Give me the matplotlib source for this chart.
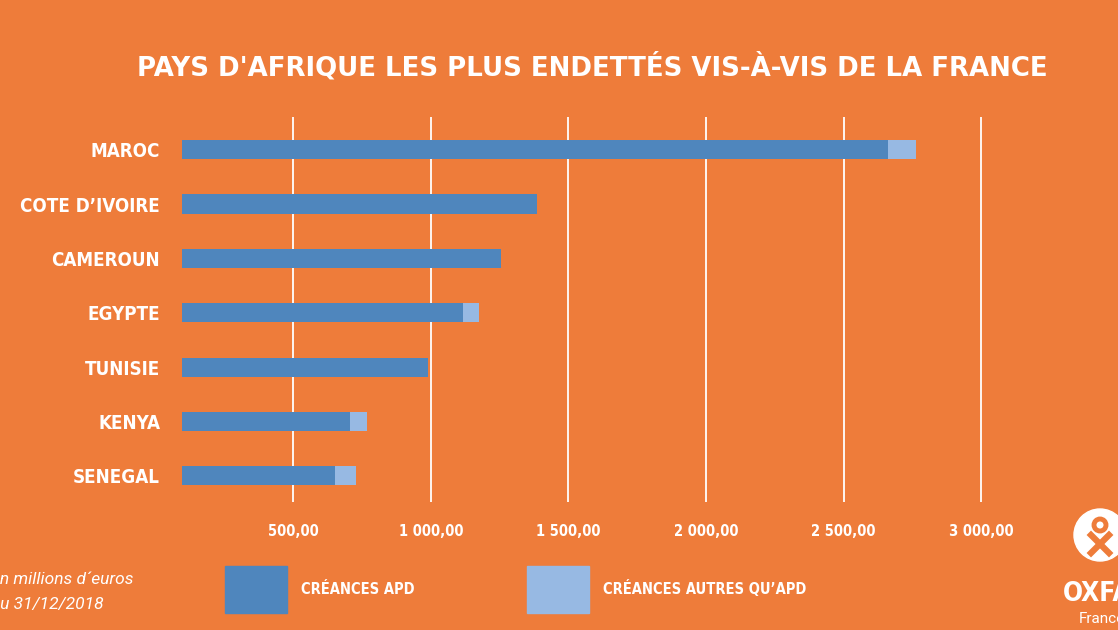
import numpy as np
import matplotlib.pyplot as plt
from matplotlib.patches import Circle
from matplotlib.ticker import FuncFormatter

# --- DATA ---
countries = ["MAROC", "COTE D’IVOIRE", "CAMEROUN", "EGYPTE", "TUNISIE", "KENYA", "SENEGAL"]
creances_apd = [2660, 1386, 1255, 1118, 990, 706, 652]
creances_autres = [104, 0, 0, 57, 0, 61, 77]
x_ticks = [500, 1000, 1500, 2000, 2500, 3000]

ORANGE = "#EE7C3A"
BLUE = "#4F86BD"
LIGHT_BLUE = "#97B9E3"
COND = dict(family=["DejaVu Sans"], fontstretch="condensed", fontweight="bold")


def fr_format(v, pos=None):
    s = f"{v:,.2f}"
    return s.replace(",", " ").replace(".", ",")


fig = plt.figure(figsize=(11.18, 6.30), dpi=100, facecolor=ORANGE)
ax = fig.add_axes([182.3 / 1118, 128 / 630, 840 / 1118, 385 / 630])
ax.set_facecolor(ORANGE)

y = np.arange(len(countries))
ax.barh(y, creances_apd, height=0.35, color=BLUE, zorder=3)
ax.barh(y, creances_autres, left=creances_apd, height=0.35, color=LIGHT_BLUE, zorder=3)

ax.set_xlim(96, 3150)
ax.set_ylim(6.48, -0.6)
ax.set_xticks(x_ticks)
ax.xaxis.set_major_formatter(FuncFormatter(fr_format))
ax.set_yticks(y)
ax.set_yticklabels(countries)
ax.grid(axis="x", color="white", linewidth=1.3, zorder=1)
for s in ax.spines.values():
    s.set_visible(False)
ax.tick_params(axis="both", length=0, colors="white")
ax.tick_params(axis="x", pad=16)
ax.tick_params(axis="y", pad=16)
for lbl in ax.get_xticklabels():
    lbl.set(**COND, fontsize=10.5)
for lbl in ax.get_yticklabels():
    lbl.set(**COND, fontsize=13.5)

# title
fig.text(592 / 1118, 1 - 67 / 630, "PAYS D'AFRIQUE LES PLUS ENDETTÉS VIS-À-VIS DE LA FRANCE",
         ha="center", va="center", color="white", fontsize=18.7, fontweight="bold",
         family=["DejaVu Sans"])

# legend
px = fig.dpi_scale_trans
fig.add_artist(plt.Rectangle((2.25, 0.17), 0.62, 0.47, transform=px, color=BLUE))
fig.add_artist(plt.Rectangle((5.27, 0.17), 0.62, 0.47, transform=px, color=LIGHT_BLUE))
fig.text(301 / 1118, 1 - 589 / 630, "CRÉANCES APD", ha="left", va="center", color="white",
         fontsize=10.5, **COND)
fig.text(603 / 1118, 1 - 589 / 630, "CRÉANCES AUTRES QU’APD", ha="left", va="center", color="white",
         fontsize=10.5, **COND)

# note
fig.text(-9 / 1118, 1 - 580 / 630, "en millions d´euros", ha="left", va="center", color="white",
         fontsize=12.5, style="italic", family=["Roboto", "DejaVu Sans"])
fig.text(-9 / 1118, 1 - 604 / 630, "au 31/12/2018", ha="left", va="center", color="white",
         fontsize=12.5, style="italic", family=["Roboto", "DejaVu Sans"])

# logo
fig.add_artist(Circle((11.00, 0.95), 0.26, transform=px, color="white"))
fig.add_artist(Circle((11.00, 1.05), 0.06, transform=px, fill=False, edgecolor=ORANGE, linewidth=3.5))
fig.add_artist(plt.Line2D([10.91, 11.09], [0.95, 0.77], transform=px, color=ORANGE, linewidth=4.5))
fig.add_artist(plt.Line2D([11.09, 10.91], [0.95, 0.77], transform=px, color=ORANGE, linewidth=4.5))
fig.text(1063 / 1118, 1 - 594 / 630, "OXFAM", ha="left", va="center", color="white",
         fontsize=19, **COND)
fig.text(1079 / 1118, 1 - 619 / 630, "France", ha="left", va="center", color="white",
         fontsize=11, family=["Roboto", "DejaVu Sans"])

fig.savefig("out.png", dpi=100, facecolor=ORANGE)
